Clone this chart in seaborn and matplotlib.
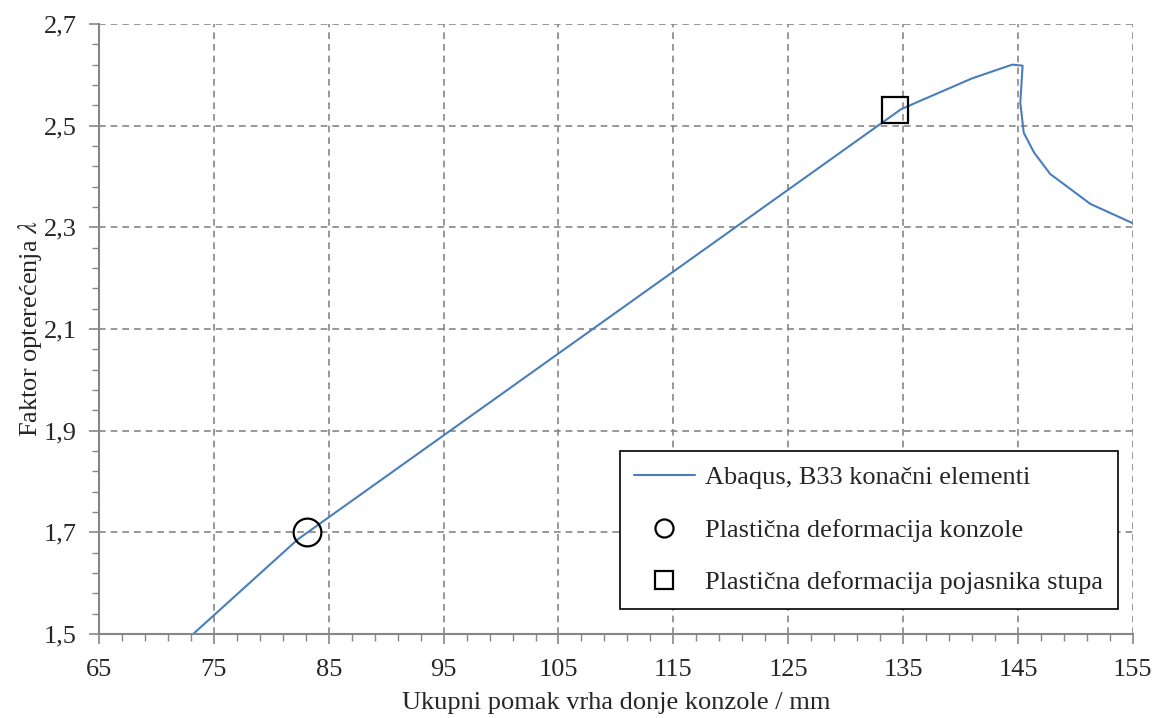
import numpy as np
import pandas as pd
import matplotlib
matplotlib.use('Agg')
import matplotlib.pyplot as plt
from matplotlib.ticker import FixedLocator, FuncFormatter
import seaborn as sns

# Abaqus curve
pomak = [73.2, 82.3, 134.8, 136.2, 141.0, 144.5, 145.4, 145.2, 145.5, 146.4, 147.8, 151.3, 155.0]
faktor = [1.500, 1.686, 2.532, 2.546, 2.593, 2.620, 2.618, 2.545, 2.486, 2.447, 2.405, 2.346, 2.308]

# characteristic points
konzola_x, konzola_y = [83.1], [1.700]
stup_x, stup_y = [134.3], [2.531]

x_ticks = [65, 75, 85, 95, 105, 115, 125, 135, 145, 155]
y_ticks = [1.5, 1.7, 1.9, 2.1, 2.3, 2.5, 2.7]

sns.set_theme(style='white')
plt.rcParams['font.family'] = ['Liberation Serif', 'DejaVu Serif']
plt.rcParams['mathtext.fontset'] = 'stix'

fig = plt.figure(figsize=(11.56, 7.18), dpi=100)
ax = fig.add_axes([0.0856, 0.117, 0.8944, 0.8496])

data = pd.DataFrame({'x': pomak, 'y': faktor})
sns.lineplot(data=data, x='x', y='y', sort=False, estimator=None, color='#4a7ebb',
             linewidth=1.5, ax=ax, label='Abaqus, B33 konačni elementi')
ax.plot(konzola_x, konzola_y, linestyle='none', marker='o', markersize=20, markerfacecolor='none',
        markeredgecolor='black', markeredgewidth=1.6, label='Plastična deformacija konzole')
ax.plot(stup_x, stup_y, linestyle='none', marker='s', markersize=19, markerfacecolor='none',
        markeredgecolor='black', markeredgewidth=1.6, label='Plastična deformacija pojasnika stupa')

ax.set_xlim(65, 155)
ax.set_ylim(1.5, 2.7)
ax.xaxis.set_major_locator(FixedLocator(x_ticks))
ax.xaxis.set_minor_locator(FixedLocator(np.arange(65, 156, 2)))
ax.yaxis.set_major_locator(FixedLocator(y_ticks))
ax.yaxis.set_minor_locator(FixedLocator(np.arange(1.5, 2.71, 0.04)))
ax.yaxis.set_major_formatter(FuncFormatter(lambda v, p: f'{v:.1f}'.replace('.', ',')))
ax.xaxis.set_major_formatter(FuncFormatter(lambda v, p: f'{v:.0f}'))

ax.grid(True, which='major', linestyle=(0, (4, 3)), color='#868686', linewidth=1.2)
for s in ['top', 'right']:
    ax.spines[s].set_visible(False)
for s in ['left', 'bottom']:
    ax.spines[s].set_color('#868686')
    ax.spines[s].set_linewidth(1.5)
ax.tick_params(which='both', direction='out', color='#868686', bottom=True, left=True)
ax.tick_params(which='major', length=7, width=1.2, labelsize=19)
ax.tick_params(which='minor', length=5, width=1.0)
ax.tick_params(axis='x', which='major', pad=11)
ax.tick_params(axis='y', which='major', pad=9)

ax.set_xlabel('Ukupni pomak vrha donje konzole / mm', fontsize=19, labelpad=8)
ax.set_ylabel(r'Faktor opterećenja $\lambda$', fontsize=19, labelpad=0)

leg = ax.legend(loc='lower right', bbox_to_anchor=(0.9855, 0.041), borderaxespad=0,
                fontsize=19, frameon=True, fancybox=False, edgecolor='black', framealpha=1,
                borderpad=0.55, labelspacing=1.1, handlelength=2.3, handletextpad=0.4,
                markerscale=0.65)
leg.get_frame().set_linewidth(1.2)

fig.savefig('out.png', dpi=100)
